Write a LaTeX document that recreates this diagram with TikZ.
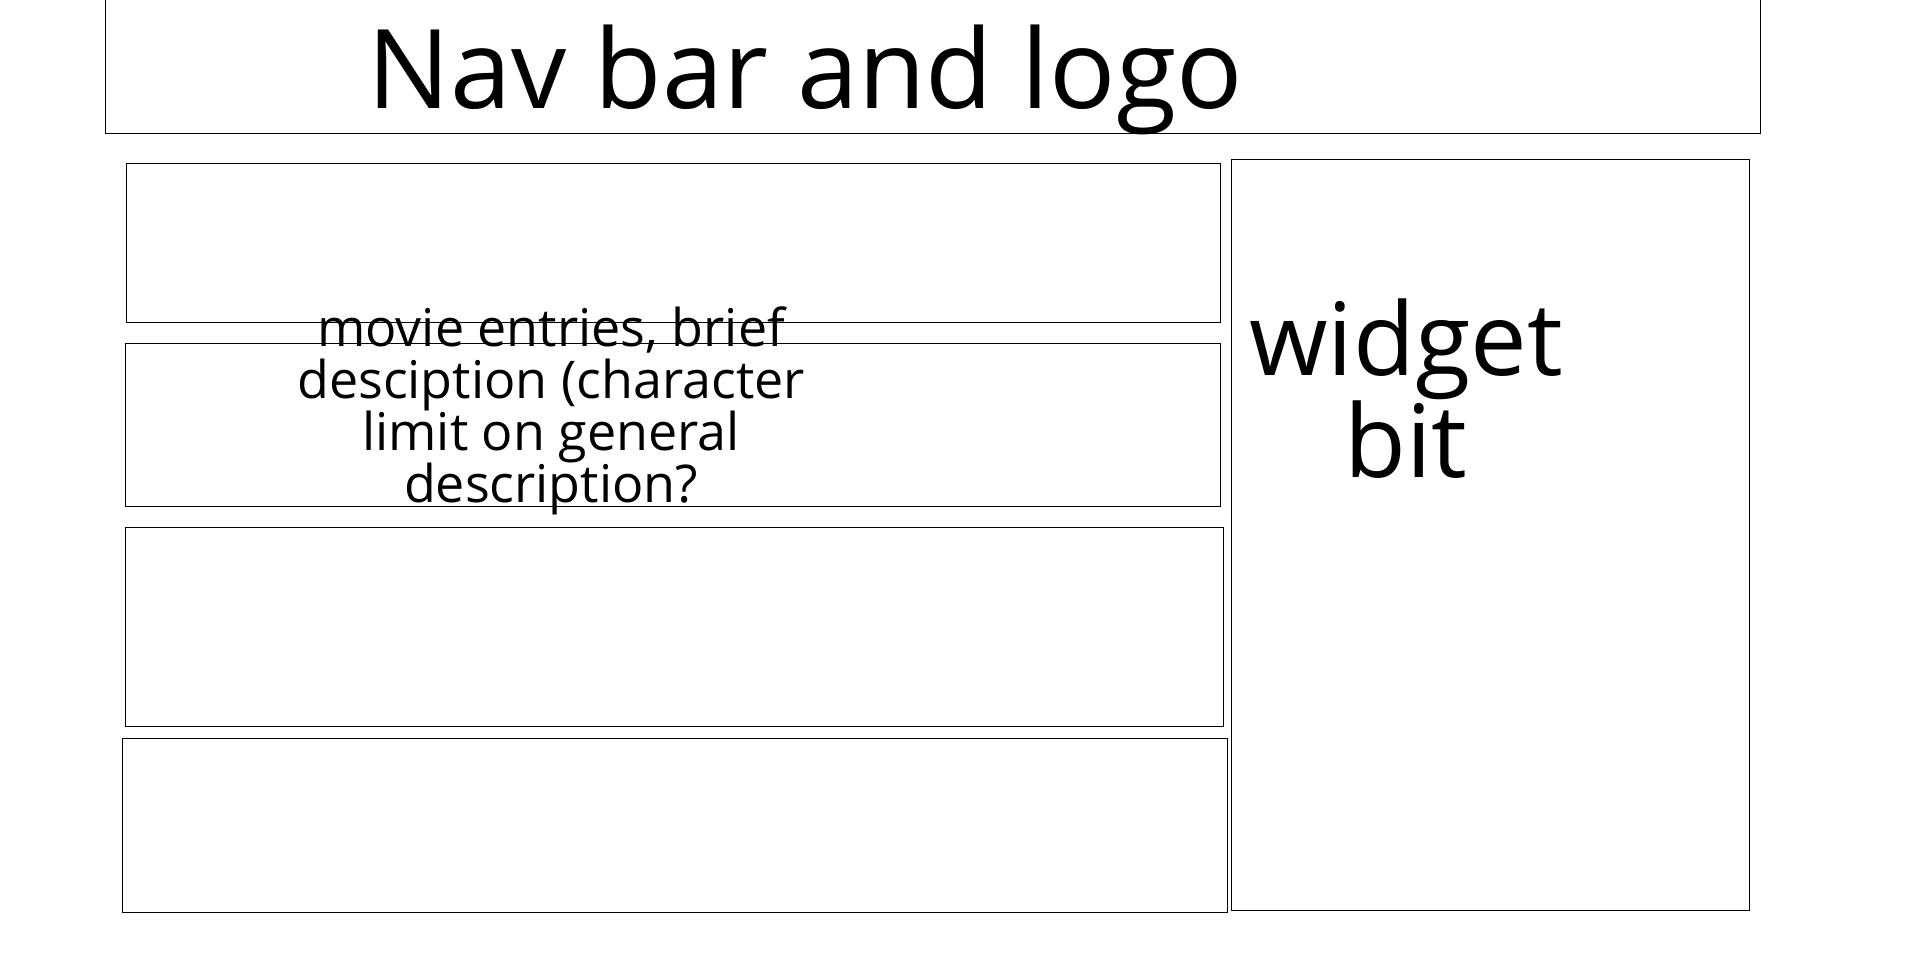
\documentclass[tikz,border=0pt]{standalone}
\usepackage{fontspec}
\setmainfont{Open Sans}
\begin{document}
\begin{tikzpicture}[x=1pt,y=-1pt,
  frame/.style={draw=black,line width=0.9pt,fill=none},
  label/.style={inner sep=0pt,text=black,align=center}]
\useasboundingbox (0,0) rectangle (1920,966);
\fill[white] (0,0) rectangle (1920,966);
% nav bar
\draw[frame] (105,-5) rectangle (1760,133.5);
\node[coordinate] (navtop) at (805,108) {};
\node[label,anchor=base,font=\fontsize{110}{110}\selectfont] (nav) at (navtop) {Nav bar and logo};
% entry boxes
\draw[frame] (126,163) rectangle (1220,322);
\draw[frame] (125,343) rectangle (1220,506);
\draw[frame] (125,527) rectangle (1223,726);
\draw[frame] (122,738) rectangle (1227,912);
% widget
\draw[frame] (1231,159) rectangle (1749,910);
\node[label,anchor=north,font=\fontsize{52}{52}\selectfont] (movie) at (551,307)
  {movie entries, brief\\desciption (character\\limit on general\\description?};
\node[label,anchor=north,font=\fontsize{101}{100}\selectfont] (widget) at (1406,299)
  {widget\\bit};
\end{tikzpicture}
\end{document}
